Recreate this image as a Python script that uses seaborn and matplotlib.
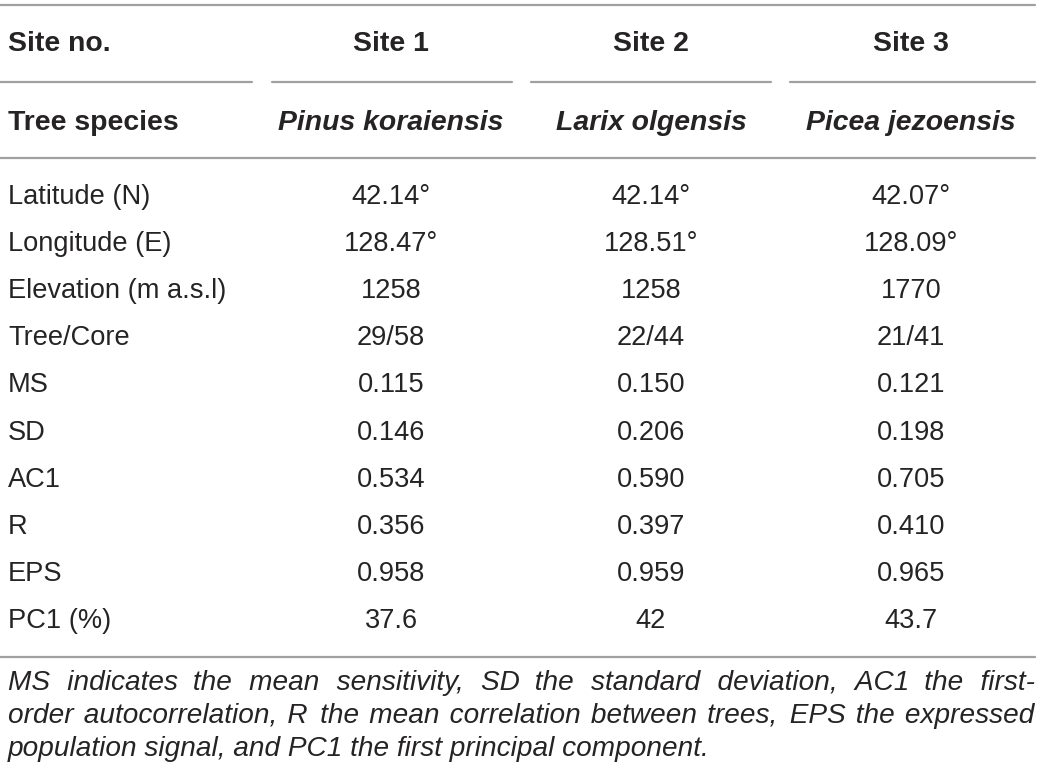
import matplotlib
matplotlib.use("Agg")
import matplotlib.pyplot as plt
import seaborn as sns

sns.set_theme(style="white")
plt.rcParams['font.family'] = ['Liberation Sans', 'DejaVu Sans']

# ---- data ----
header_label = "Site no."
sites = ["Site 1", "Site 2", "Site 3"]
species_label = "Tree species"
species = ["Pinus koraiensis", "Larix olgensis", "Picea jezoensis"]
row_labels = ["Latitude (N)", "Longitude (E)", "Elevation (m a.s.l)", "Tree/Core",
              "MS", "SD", "AC1", "R", "EPS", "PC1 (%)"]
site1 = ["42.14°", "128.47°", "1258", "29/58", "0.115", "0.146", "0.534", "0.356", "0.958", "37.6"]
site2 = ["42.14°", "128.51°", "1258", "22/44", "0.150", "0.206", "0.590", "0.397", "0.959", "42"]
site3 = ["42.07°", "128.09°", "1770", "21/41", "0.121", "0.198", "0.705", "0.410", "0.965", "43.7"]
footnote_lines = [
    "MS indicates the mean sensitivity, SD the standard deviation, AC1 the first-",
    "order autocorrelation, R the mean correlation between trees, EPS the expressed",
    "population signal, and PC1 the first principal component.",
]

# ---- layout ----
W, H = 1042, 779
fig = plt.figure(figsize=(W / 100, H / 100), dpi=100)
ax = fig.add_axes([0, 0, 1, 1])
ax.set_xlim(0, W)
ax.set_ylim(H, 0)
ax.axis("off")

txt_col = "#262324"
line_col = "#a0a0a0"
fs = 19.6
bfs = 20.4
lw = 1.6
left = 8
col_x = [391, 651, 911]
right_edge = 1035

# rules
ax.plot([0, right_edge], [5, 5], color=line_col, lw=lw)
for x0, x1 in [(0, 252), (272, 512), (531, 771), (790, right_edge)]:
    ax.plot([x0, x1], [82, 82], color=line_col, lw=lw)
ax.plot([0, right_edge], [158, 158], color=line_col, lw=lw)
ax.plot([0, right_edge], [657, 657], color=line_col, lw=lw)

# header
ax.text(left, 44, header_label, fontsize=bfs, fontweight="bold", color=txt_col, ha="left", va="center")
for x, s in zip(col_x, sites):
    ax.text(x, 44, s, fontsize=bfs, fontweight="bold", color=txt_col, ha="center", va="center")
ax.text(left, 123, species_label, fontsize=bfs, fontweight="bold", color=txt_col, ha="left", va="center")
for x, s in zip(col_x, species):
    ax.text(x, 123, s, fontsize=bfs, fontweight="bold", style="italic", color=txt_col, ha="center", va="center")

# body
y0, dy = 197, 47.1
for i, lab in enumerate(row_labels):
    y = y0 + i * dy
    ax.text(left, y, lab, fontsize=fs, color=txt_col, ha="left", va="center")
    for x, col in zip(col_x, [site1, site2, site3]):
        ax.text(x, y, col[i], fontsize=fs, color=txt_col, ha="center", va="center")

# footnote: justify lines 1-2 by padding word gaps with hair spaces
fig.canvas.draw()
renderer = fig.canvas.get_renderer()
fn_fs = 20.2
fn_base = [690, 723, 756]
HS = "\u200a"


def text_width(s):
    t = ax.text(0, 0, s, fontsize=fn_fs, style="italic")
    w = t.get_window_extent(renderer=renderer).width
    t.remove()
    return w


hs_w = text_width("a" + HS * 10 + "a") - text_width("aa")
hs_w /= 10.0
target = right_edge - left
for li, (line, y) in enumerate(zip(footnote_lines, fn_base)):
    s = line
    if li < len(footnote_lines) - 1 and hs_w > 0:
        words = line.split(" ")
        extra = target - text_width(line)
        n_total = max(0, int(round(extra / hs_w)))
        ng = len(words) - 1
        parts = [words[0]]
        acc = 0
        for g in range(ng):
            n = round((g + 1) * n_total / ng) - acc
            acc += n
            parts.append(" " + HS * n + words[g + 1])
        s = "".join(parts)
    ax.text(left, y, s, fontsize=fn_fs, style="italic", color=txt_col, ha="left", va="baseline")

fig.savefig("out.png", dpi=100)
